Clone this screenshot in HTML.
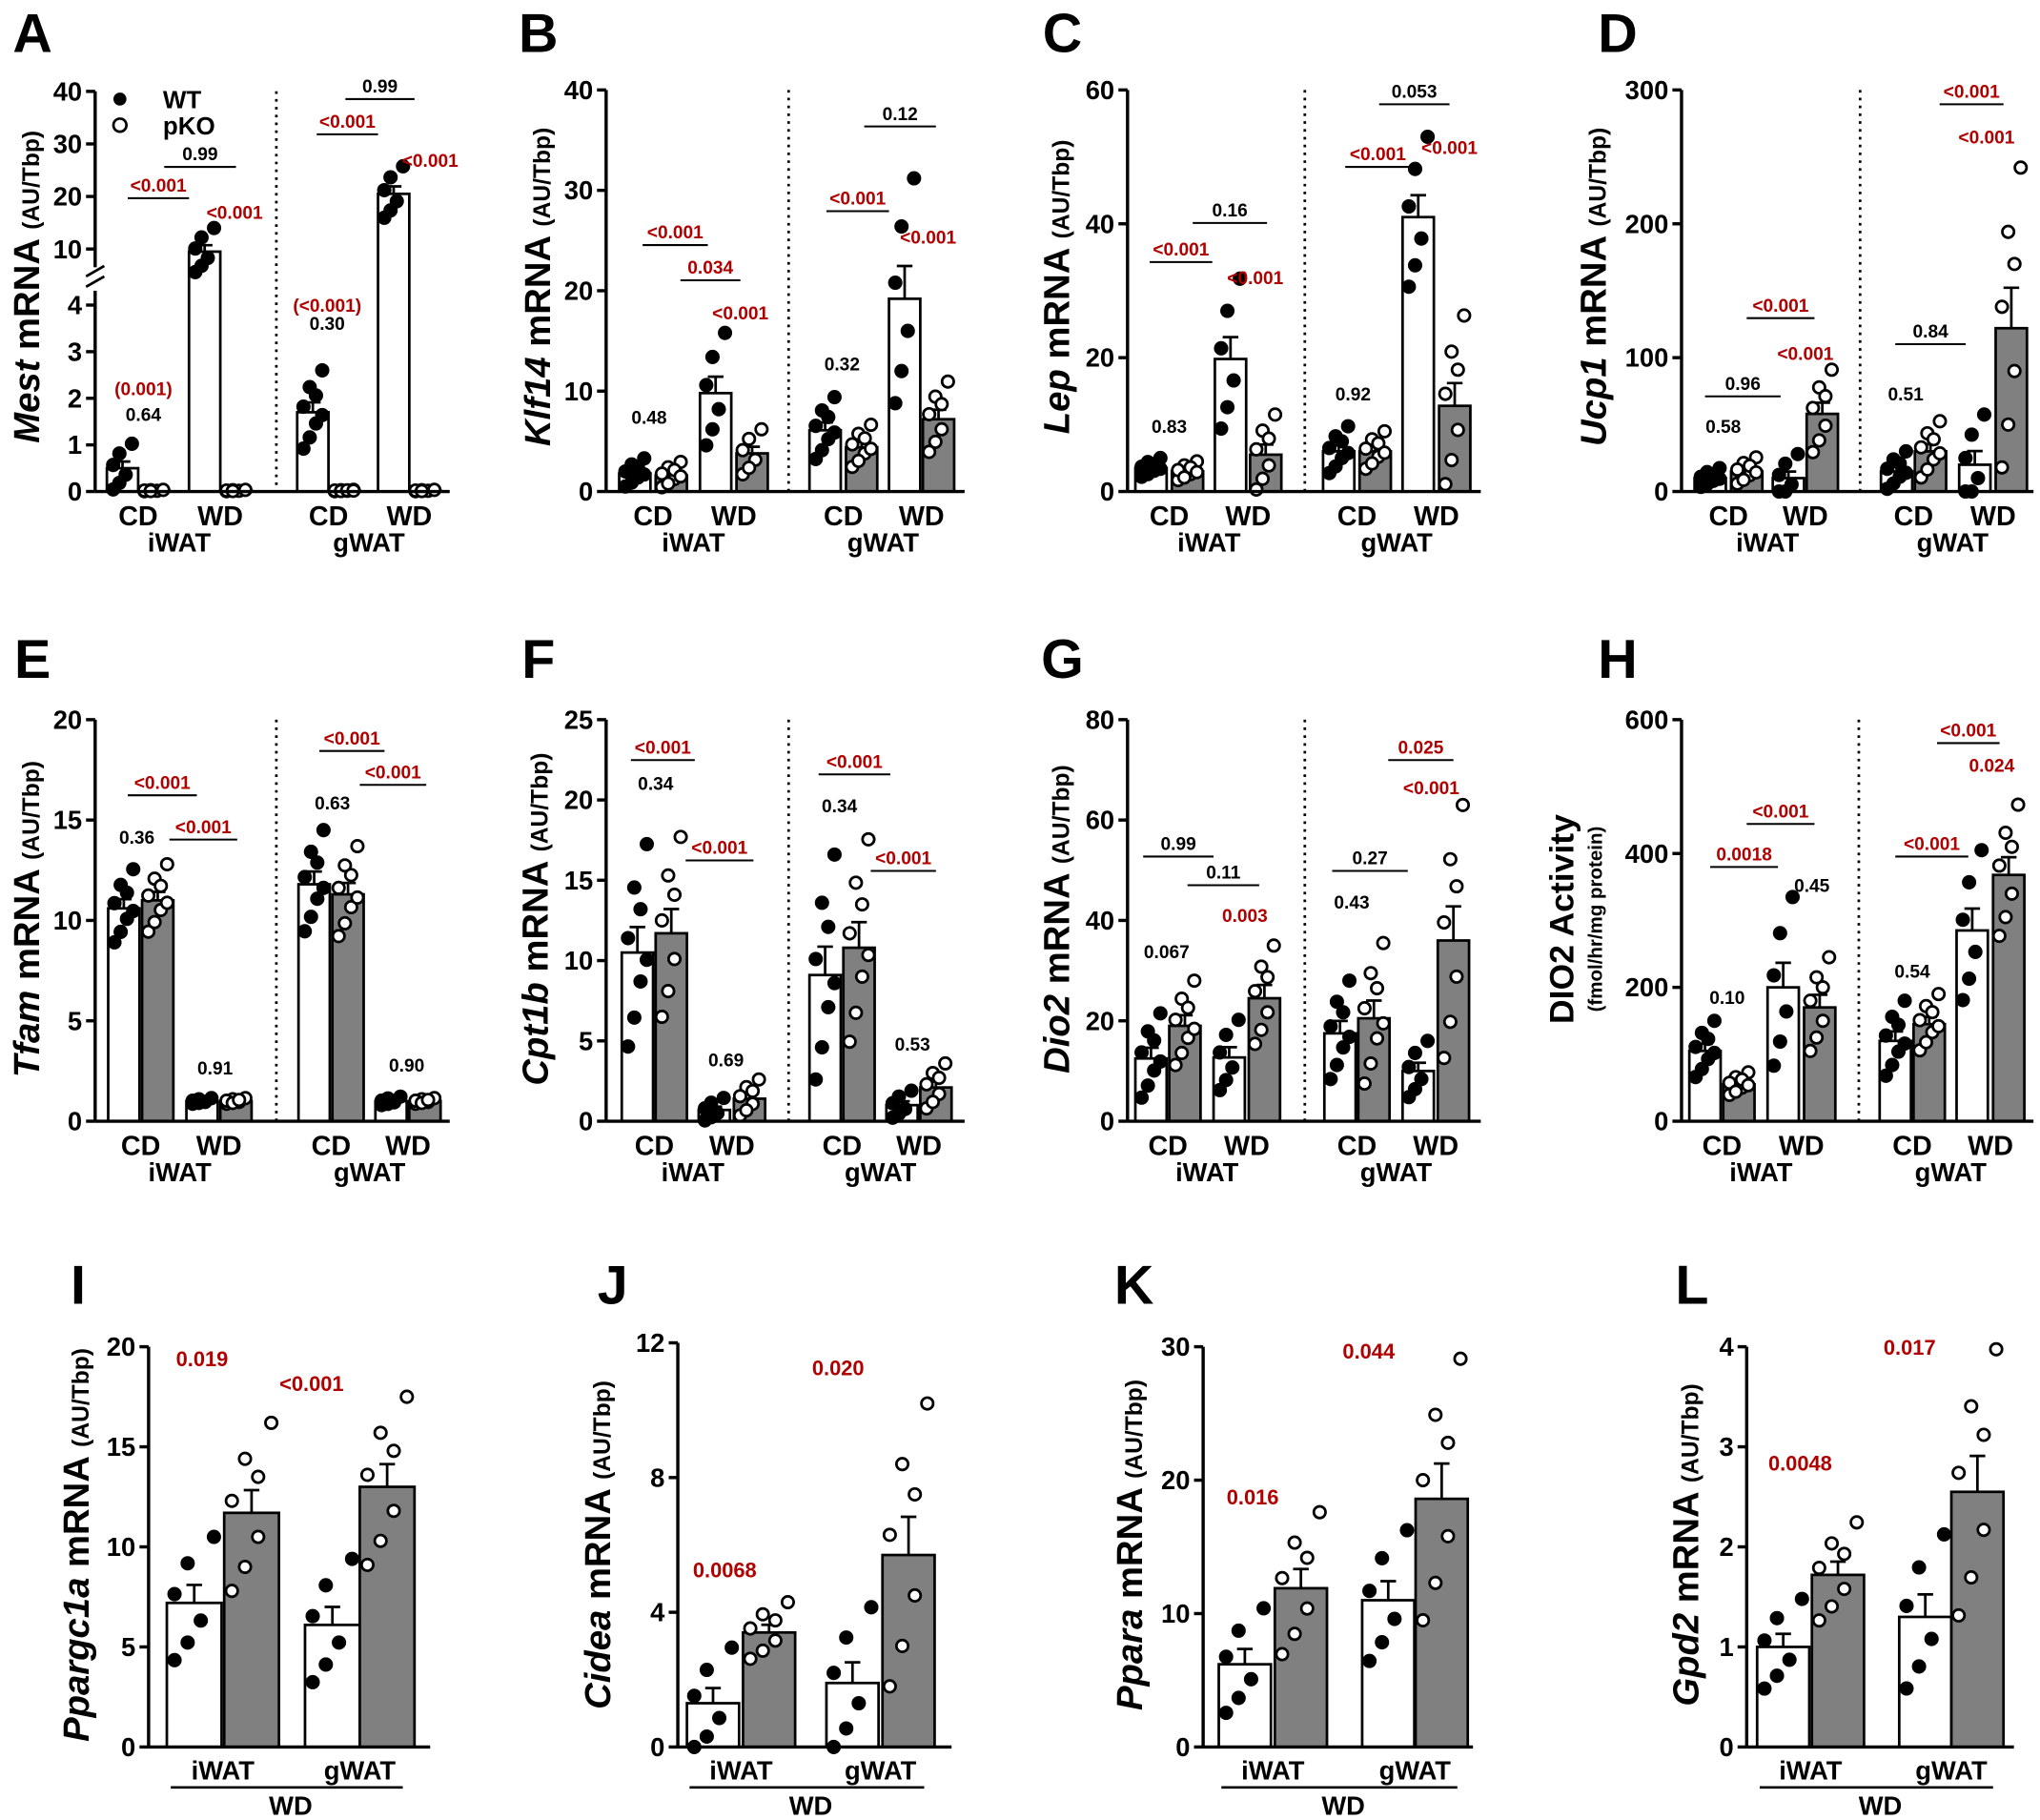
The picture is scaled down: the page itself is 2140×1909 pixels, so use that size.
<!DOCTYPE html>
<html><head><meta charset="utf-8"><style>
html,body{margin:0;padding:0;background:#fff}
svg{display:block}
text{font-family:"Liberation Sans",Arial,sans-serif;font-weight:bold}
</style></head><body>
<svg id="s" width="2140" height="1909" viewBox="0 0 1565 1396" preserveAspectRatio="none" xmlns="http://www.w3.org/2000/svg"></svg>
<script>
const R='#b00000';let o='';
function T(x,y,t,sz,col,anc,extra){o+=`<text x="${x}" y="${y}" font-size="${sz}" fill="${col||'#000'}" text-anchor="${anc||'middle'}" ${extra||''}>${t}</text>`;}
function L(x1,y1,x2,y2,w,extra){o+=`<line x1="${x1}" y1="${y1}" x2="${x2}" y2="${y2}" stroke="#000" stroke-width="${w||2.5}" ${extra||''}/>`;}
const Z=[-1.3,0.9,-0.4,1.5,0.2,-0.9,0.6,-0.1];
function panel(p){
  const ys=p.ys||(v=>p.bot-(p.bot-p.top)*v/p.max);
  p.bars.forEach((b,i)=>{
    const [x,v,sd,n]=b;const pk=i%2==1;const w=p.bw||24;
    const y=ys(v);
    o+=`<rect x="${x-w/2}" y="${y}" width="${w}" height="${p.bot-y}" fill="${pk?'#808080':'#fff'}" stroke="#000" stroke-width="2"/>`;
    const se=sd/Math.sqrt(n);
    L(x,y,x,ys(v+se),2);L(x-6,ys(v+se),x+6,ys(v+se),2);
    for(let k=0;k<n;k++){const vv=Math.max(0,v+sd*Z[k]);const px=x+((k%4)-1.5)*(w/5)*(p.bw?1.2:1);
      o+=`<circle cx="${px}" cy="${ys(vv)}" r="4.5" fill="${pk?'#fff':'#000'}" stroke="#000" stroke-width="2"/>`;}
  });
  L(p.ax,p.top,p.ax,p.bot);L(p.ax,p.bot,p.xe,p.bot);
  p.ticks.forEach(t=>{const y=ys(t);L(p.ax-7,y,p.ax,y);T(p.ax-10,y+7,t,20,'#000','end');});
  if(p.sep)L(p.sep,p.top,p.sep,p.bot,2,'stroke-dasharray="2,4"');
  (p.ann||[]).forEach(a=>{L(a[0],a[2],a[1],a[2],1.5);T((a[0]+a[1])/2,a[2]-5,a[3],14,a[4]||'#000');});
  (p.txt||[]).forEach(a=>T(a[0],a[1],a[2],a[4]||14,a[3]||'#000'));
  const b=p.bars;
  if(p.xl){T((b[0][0]+b[1][0])/2,p.bot+26,'CD',21);T((b[2][0]+b[3][0])/2,p.bot+26,'WD',21);
    T((b[4][0]+b[5][0])/2,p.bot+26,'CD',21);T((b[6][0]+b[7][0])/2,p.bot+26,'WD',21);
    T((b[1][0]+b[2][0])/2,p.bot+46,'iWAT',20);T((b[5][0]+b[6][0])/2,p.bot+46,'gWAT',20);}
  else{T((b[0][0]+b[1][0])/2,p.bot+25,'iWAT',20);T((b[2][0]+b[3][0])/2,p.bot+25,'gWAT',20);
    L(b[0][0]-18,p.bot+31,b[3][0]+12,p.bot+31,2);T((b[0][0]+b[3][0])/2,p.bot+52,'WD',20);}
  if(p.g)o+=`<text transform="translate(${p.lx},${p.ly}) rotate(-90)" text-anchor="middle" font-size="28"><tspan font-style="italic">${p.g}</tspan> mRNA <tspan font-size="18">(AU/Tbp)</tspan></text>`;
}
[['A',25,40],['B',413,40],['C',815,40],['D',1241,40],['E',25,520],['F',413,520],['G',815,520],['H',1241,520],['I',60,1000],['J',470,1000],['K',870,1000],['L',1298,1000]].forEach(a=>T(a[1],a[2],a[0],42));
const ysA=v=>v<=4?377-v*35.75:191-(v-10)*4.03;
panel({ys:ysA,top:70,bot:377,ax:73,xe:345,ticks:[0,1,2,3,4,10,20,30,40],sep:212,xl:1,g:'Mest',lx:30,ly:220,
 bars:[[94,0.5,0.35,6],[118,0.02,0.01,6],[157,9.5,3,6],[181,0.02,0.01,6],[240,1.7,0.6,8],[264,0.02,0.01,8],[302,20.5,3.5,6],[326,0.02,0.01,6]],
 ann:[[98,145,152,'&lt;0.001',R],[126,181,128,'0.99'],[243,290,103,'&lt;0.001',R],[265,318,76,'0.99']],
 txt:[[110,303,'(0.001)',R],[110,323,'0.64'],[180,168,'&lt;0.001',R],[251,239,'(&lt;0.001)',R],[251,253,'0.30'],[330,128,'&lt;0.001',R]]});
o+='<rect x="66" y="205" width="14" height="18" fill="#fff"/>';L(66,212,80,204,2);L(66,220,80,212,2);
o+='<circle cx="92" cy="76" r="5" fill="#000"/><circle cx="92" cy="96" r="5" fill="#fff" stroke="#000" stroke-width="2"/>';
T(125,83,'WT',19,'#000','start');T(125,103,'pKO',19,'#000','start');
panel({top:69,bot:377,max:40,ax:465,xe:740,ticks:[0,10,20,30,40],sep:605,xl:1,g:'Klf14',lx:422,ly:220,
 bars:[[487,1.8,1,8],[515,1.6,0.9,8],[549,9.8,4,6],[577,3.8,1.6,6],[633,6.1,2.2,8],[661,4.4,1.5,8],[694,19.2,8,6],[720,7.2,2.5,7]],
 ann:[[493,543,188,'&lt;0.001',R],[522,568,215,'0.034',R],[634,682,162,'&lt;0.001',R],[663,718,97,'0.12']],
 txt:[[498,325,'0.48'],[568,245,'&lt;0.001',R],[646,284,'0.32'],[712,187,'&lt;0.001',R]]});
panel({top:69,bot:377,max:60,ax:865,xe:1136,ticks:[0,20,40,60],sep:1001,xl:1,g:'Lep',lx:820,ly:220,
 bars:[[883,3.5,1,8],[911,3,1,8],[944,19.8,8,6],[971,5.5,4,7],[1027,6,2.5,8],[1055,6,2,8],[1088,41,8,6],[1116,12.8,9,7]],
 ann:[[882,930,201,'&lt;0.001',R],[915,972,171,'0.16'],[1032,1082,128,'&lt;0.001',R],[1058,1112,80,'0.053']],
 txt:[[897,332,'0.83'],[963,218,'&lt;0.001',R],[1038,307,'0.92'],[1112,118,'&lt;0.001',R]]});
panel({top:69,bot:377,max:300,ax:1290,xe:1560,ticks:[0,100,200,300],sep:1427,xl:1,g:'Ucp1',lx:1232,ly:220,
 bars:[[1312,10,5,8],[1340,15,7,8],[1372,10,12,6],[1398,58,22,7],[1455,15,10,8],[1481,30,15,8],[1515,20,25,6],[1543,122,80,7]],
 ann:[[1308,1366,304,'0.96'],[1340,1392,244,'&lt;0.001',R],[1454,1508,264,'0.84'],[1488,1537,80,'&lt;0.001',R]],
 txt:[[1322,332,'0.58'],[1385,276,'&lt;0.001',R],[1462,307,'0.51'],[1524,110,'&lt;0.001',R]]});
panel({top:552,bot:860,max:20,ax:73,xe:345,ticks:[0,5,10,15,20],sep:212,xl:1,g:'Tfam',lx:30,ly:705,
 bars:[[95,10.6,1.3,8],[121,11,1.2,8],[155,1,0.1,6],[181,1,0.1,7],[241,11.8,1.8,8],[267,11.3,1.6,8],[300,1,0.15,6],[326,1,0.1,7]],
 ann:[[98,151,610,'&lt;0.001',R],[130,182,644,'&lt;0.001',R],[245,295,576,'&lt;0.001',R],[276,327,602,'&lt;0.001',R]],
 txt:[[105,647,'0.36'],[165,824,'0.91'],[255,621,'0.63'],[312,822,'0.90']]});
panel({top:552,bot:860,max:25,ax:465,xe:740,ticks:[0,5,10,15,20,25],sep:605,xl:1,g:'Cpt1b',lx:420,ly:705,
 bars:[[489,10.5,4.5,8],[515,11.7,4,7],[548,0.7,0.5,6],[575,1.4,0.8,7],[633,9.1,5,8],[659,10.8,4.5,8],[692,1,0.6,6],[718,2.1,1,7]],
 ann:[[484,533,583,'&lt;0.001',R],[526,578,660,'&lt;0.001',R],[628,683,594,'&lt;0.001',R],[668,718,668,'&lt;0.001',R]],
 txt:[[503,606,'0.34'],[557,818,'0.69'],[644,623,'0.34'],[700,806,'0.53']]});
panel({top:552,bot:860,max:80,ax:865,xe:1136,ticks:[0,20,40,60,80],sep:1001,xl:1,g:'Dio2',lx:820,ly:705,
 bars:[[883,12.5,6,8],[909,19,6,8],[943,12.7,5,6],[970,24.5,7,7],[1028,17.5,7,8],[1054,20.5,10,8],[1088,10,4,6],[1115,36,18,7]],
 ann:[[877,931,657,'0.99'],[911,966,679,'0.11'],[1022,1080,668,'0.27'],[1065,1115,583,'0.025',R]],
 txt:[[895,735,'0.067'],[955,707,'0.003',R],[1037,697,'0.43'],[1098,609,'&lt;0.001',R]]});
panel({top:552,bot:860,max:600,ax:1290,xe:1560,ticks:[0,200,400,600],sep:1426,xl:1,g:'',
 bars:[[1308,105,30,8],[1334,55,12,8],[1368,200,90,6],[1396,170,50,7],[1454,120,40,8],[1480,145,30,8],[1513,285,80,6],[1541,368,70,7]],
 ann:[[1312,1364,665,'0.0018',R],[1340,1392,632,'&lt;0.001',R],[1454,1510,657,'&lt;0.001',R],[1486,1534,570,'&lt;0.001',R]],
 txt:[[1325,770,'0.10'],[1390,684,'0.45'],[1467,750,'0.54'],[1528,592,'0.024',R]]});
o+=`<text transform="translate(1207,705) rotate(-90)" text-anchor="middle" font-size="26">DIO2 Activity</text>`;
o+=`<text transform="translate(1229,705) rotate(-90)" text-anchor="middle" font-size="15">(fmol/hr/mg protein)</text>`;
panel({top:1033,bot:1340,max:20,ax:114,xe:330,ticks:[0,5,10,15,20],bw:42,g:'Ppargc1a',lx:68,ly:1185,
 bars:[[149,7.2,2.2,6],[193,11.7,3,7],[255,6.1,2.2,6],[297,13,3,7]],
 txt:[[155,1048,'0.019',R,16],[239,1067,'&lt;0.001',R,16]]});
panel({top:1030,bot:1340,max:12,ax:520,xe:730,ticks:[0,4,8,12],bw:40,g:'Cidea',lx:468,ly:1185,
 bars:[[547,1.3,1.1,6],[590,3.4,0.6,7],[654,1.9,1.5,6],[697,5.7,3,7]],
 txt:[[556,1210,'0.0068',R,16],[643,1055,'0.020',R,16]]});
panel({top:1033,bot:1340,max:30,ax:923,xe:1130,ticks:[0,10,20,30],bw:40,g:'Ppara',lx:876,ly:1185,
 bars:[[955,6.2,2.8,6],[998,11.9,3.8,7],[1065,11,3.5,6],[1106,18.6,7,7]],
 txt:[[961,1154,'0.016',R,16],[1050,1042,'0.044',R,16]]});
panel({top:1033,bot:1340,max:4,ax:1340,xe:1545,ticks:[0,1,2,3,4],bw:40,g:'Gpd2',lx:1303,ly:1185,
 bars:[[1368,1.0,0.32,6],[1410,1.72,0.35,7],[1477,1.3,0.55,6],[1517,2.55,0.95,7]],
 txt:[[1381,1128,'0.0048',R,16],[1465,1039,'0.017',R,16]]});
document.getElementById('s').innerHTML=o;
</script>
</body></html>
